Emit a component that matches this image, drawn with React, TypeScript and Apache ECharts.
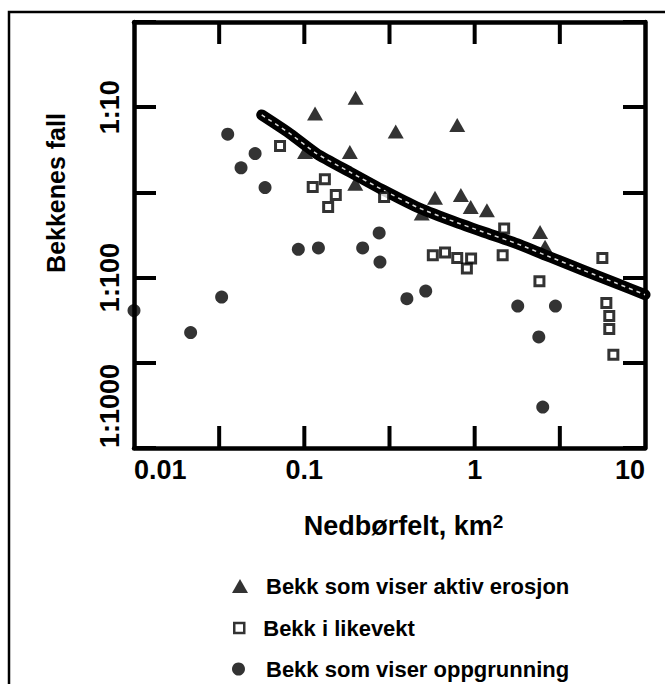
import React, { useEffect, useRef } from "react";
import * as echarts from "echarts";

// Data: [catchment area (km²), slope as 1:N -> N]
const erosionPoints: [number, number][] = [
  [0.1156, 10.9],
  [0.2, 8.8],
  [0.344, 13.9],
  [0.79, 12.7],
  [0.185, 18.3],
  [0.101, 18.3],
  [0.199, 28.1],
  [0.585, 34.0],
  [0.83, 32.8],
  [0.948, 38.5],
  [1.18, 40.3],
  [0.489, 42.0],
  [2.42, 54.0],
  [2.59, 66.0],
];

const equilibriumPoints: [number, number][] = [
  [0.072, 16.9],
  [0.132, 26.5],
  [0.112, 29.4],
  [0.153, 32.8],
  [0.138, 38.5],
  [0.294, 33.6],
  [1.49, 51.5],
  [0.568, 74.0],
  [0.67, 71.3],
  [0.79, 76.7],
  [0.953, 77.3],
  [0.9, 88.5],
  [1.46, 74.0],
  [2.4, 105],
  [5.62, 76.7],
  [5.93, 141],
  [6.17, 168],
  [6.17, 200],
  [6.52, 284],
];

const aggradationPoints: [number, number][] = [
  [0.0355, 14.4],
  [0.0514, 18.7],
  [0.0425, 22.7],
  [0.0588, 29.6],
  [0.275, 54.7],
  [0.0922, 68.2],
  [0.121, 67.0],
  [0.22, 67.0],
  [0.278, 81.0],
  [0.4, 133],
  [0.516, 120],
  [0.01, 156],
  [0.0215, 210],
  [0.0327, 130],
  [1.79, 147],
  [2.98, 147],
  [2.38, 223],
  [2.51, 575],
];

const trendLine: [number, number][] = [
  [0.0562, 11.1],
  [0.0824, 14.3],
  [0.118, 18.7],
  [0.185, 24.0],
  [0.291, 30.7],
  [0.457, 38.5],
  [0.718, 46.0],
  [1.125, 54.0],
  [1.77, 63.2],
  [2.77, 75.7],
  [4.35, 90.6],
  [6.82, 108],
  [10, 126],
];

const seriesNames = [
  "Bekk som viser aktiv erosjon",
  "Bekk i likevekt",
  "Bekk som viser oppgrunning",
];

// inner x ticks (half decades) drawn on bottom and top frame
const xTickValues = [0.031623, 0.1, 0.31623, 1, 3.1623];
const xLabelValues = [0.01, 0.1, 1, 10];
const xLabelTexts = ["0.01", "0.1", "1", "10"];
const yLabelValues = [10, 100, 1000];
const yLabelTexts = ["1:10", "1:100", "1:1000"];

const xTitle = "Nedbørfelt, km";
const xTitleSup = "2";
const yTitle = "Bekkenes fall";

const X_MIN = 0.01;
const X_MAX = 10;
const Y_MIN = Math.sqrt(10); // 1:3.16 at top
const Y_MAX = 1000;
const HALF_DECADE_BASE = Math.sqrt(10);

const FONT = "'Liberation Sans', Arial, Helvetica, sans-serif";
const TICK_LEN = 22;

function pickLabel(v: number, values: number[], texts: string[]): string {
  for (let i = 0; i < values.length; i++) {
    if (Math.abs(Math.log10(v) - Math.log10(values[i])) < 1e-6) return texts[i];
  }
  return "";
}

const mkAxisLine = () => ({
  show: true,
  onZero: false,
  lineStyle: { color: "#000", width: 4.5 },
});

const baseX = () => ({
  type: "log",
  logBase: HALF_DECADE_BASE,
  min: X_MIN,
  max: X_MAX,
  splitNumber: 6,
  splitLine: { show: false },
  axisLine: mkAxisLine(),
  axisTick: { show: false },
});

const baseY = () => ({
  type: "log",
  logBase: HALF_DECADE_BASE,
  min: Y_MIN,
  max: Y_MAX,
  inverse: true,
  splitLine: { show: false },
  axisLine: mkAxisLine(),
  axisTick: {
    show: true,
    inside: true,
    length: TICK_LEN,
    lineStyle: { color: "#000", width: 4 },
  },
});

export default function App() {
  const ref = useRef<HTMLDivElement>(null);

  useEffect(() => {
    if (!ref.current) return;
    const chart = echarts.init(ref.current, undefined, { renderer: "svg" });

    const legendText = (pad: number) => ({
      fontFamily: FONT,
      fontWeight: "bold" as const,
      fontSize: 22,
      color: "#000",
      padding: [0, 0, 0, pad],
    });

    const option: any = {
      animation: false,
      backgroundColor: "#fff",
      grid: {
        left: 134,
        right: 20,
        top: 22,
        bottom: 236,
        containLabel: false,
        outerBoundsMode: "none",
      },
      xAxis: [
        {
          ...baseX(),
          position: "bottom",
          axisLabel: {
            formatter: (v: number) => pickLabel(v, xLabelValues, xLabelTexts),
            fontFamily: FONT,
            fontWeight: "bold",
            fontSize: 27,
            color: "#000",
            margin: 8,
            alignMinLabel: "left",
            alignMaxLabel: "right",
            showMinLabel: true,
            showMaxLabel: true,
            hideOverlap: false,
          },
          name: `${xTitle}{sup|${xTitleSup}}`,
          nameLocation: "middle",
          nameGap: 64,
          nameMoveOverlap: false,
          nameTextStyle: {
            fontFamily: FONT,
            fontWeight: "bold",
            fontSize: 27,
            color: "#000",
            padding: [0, 0, 0, 28],
            rich: {
              sup: {
                fontFamily: FONT,
                fontWeight: "bold",
                fontSize: 19,
                color: "#000",
                verticalAlign: "top",
              },
            },
          },
        },
        {
          ...baseX(),
          position: "top",
          axisLabel: { show: false },
        },
      ],
      yAxis: [
        {
          ...baseY(),
          position: "left",
          axisLabel: {
            formatter: (v: number) => pickLabel(v, yLabelValues, yLabelTexts),
            rotate: 90,
            fontFamily: FONT,
            fontWeight: "bold",
            fontSize: 27,
            color: "#000",
            margin: 11,
            alignMaxLabel: "left",
            showMinLabel: true,
            showMaxLabel: true,
            hideOverlap: false,
          },
          name: yTitle,
          nameLocation: "middle",
          nameRotate: 90,
          nameGap: 66,
          nameMoveOverlap: false,
          nameTextStyle: {
            fontFamily: FONT,
            fontWeight: "bold",
            fontSize: 25,
            color: "#000",
            padding: [0, 0, 0, 84],
          },
        },
        {
          ...baseY(),
          position: "right",
          axisLabel: { show: false },
        },
      ],
      legend: [
        {
          data: [{ name: seriesNames[0], icon: "triangle" }],
          left: 232,
          top: 575,
          orient: "vertical",
          itemWidth: 16,
          itemHeight: 14,
          padding: 0,
          selectedMode: false,
          textStyle: legendText(13),
        },
        {
          data: [
            {
              name: seriesNames[1],
              icon: "rect",
              itemStyle: { color: "#fff", borderColor: "#000", borderWidth: 2.5 },
            },
          ],
          left: 233,
          top: 617,
          orient: "vertical",
          itemWidth: 10,
          itemHeight: 10,
          padding: 0,
          selectedMode: false,
          textStyle: legendText(14),
        },
        {
          data: [{ name: seriesNames[2], icon: "circle" }],
          left: 232,
          top: 658,
          orient: "vertical",
          itemWidth: 13,
          itemHeight: 13,
          padding: 0,
          selectedMode: false,
          textStyle: legendText(16),
        },
      ],
      graphic: [
        {
          type: "rect",
          shape: { x: 9, y: 12, width: 700, height: 700 },
          style: { fill: "none", stroke: "#000", lineWidth: 2.5 },
          silent: true,
          z: -1,
        },
      ],
      series: [
        {
          name: seriesNames[0],
          type: "scatter",
          data: erosionPoints,
          symbol: "triangle",
          symbolSize: [16, 14],
          itemStyle: { color: "#000" },
          z: 3,
        },
        {
          name: seriesNames[2],
          type: "scatter",
          data: aggradationPoints,
          symbol: "circle",
          symbolSize: 13,
          itemStyle: { color: "#000" },
          z: 3,
        },
        {
          name: "trend",
          type: "line",
          data: trendLine,
          symbol: "none",
          smooth: 0.2,
          lineStyle: { color: "#000", width: 11, cap: "round", join: "round" },
          silent: true,
          z: 4,
        },
        {
          name: "trend-inner",
          type: "line",
          data: trendLine,
          symbol: "none",
          smooth: 0.2,
          lineStyle: { color: "#fff", width: 1.5, type: [4, 4], opacity: 0.85 },
          silent: true,
          z: 5,
        },
        {
          name: seriesNames[1],
          type: "scatter",
          data: equilibriumPoints,
          symbol: "rect",
          symbolSize: 9,
          itemStyle: { color: "#fff", borderColor: "#000", borderWidth: 3 },
          z: 6,
        },
        {
          name: "x-ticks",
          type: "custom",
          silent: true,
          z: 8,
          data: xTickValues.map((v) => [v, Y_MAX]),
          renderItem: (_params: any, api: any) => {
            const xv = api.value(0);
            const b = api.coord([xv, Y_MAX]);
            const t = api.coord([xv, Y_MIN]);
            const style = { stroke: "#000", lineWidth: 4, fill: "none" };
            return {
              type: "group",
              children: [
                {
                  type: "line",
                  shape: { x1: b[0], y1: b[1], x2: b[0], y2: b[1] - TICK_LEN },
                  style,
                },
                {
                  type: "line",
                  shape: { x1: t[0], y1: t[1], x2: t[0], y2: t[1] + TICK_LEN },
                  style,
                },
              ],
            };
          },
        },
      ],
    };

    chart.setOption(option);
    return () => chart.dispose();
  }, []);

  return (
    <div
      ref={ref}
      style={{ position: "absolute", left: 0, top: 0, width: 665, height: 684 }}
    />
  );
}
